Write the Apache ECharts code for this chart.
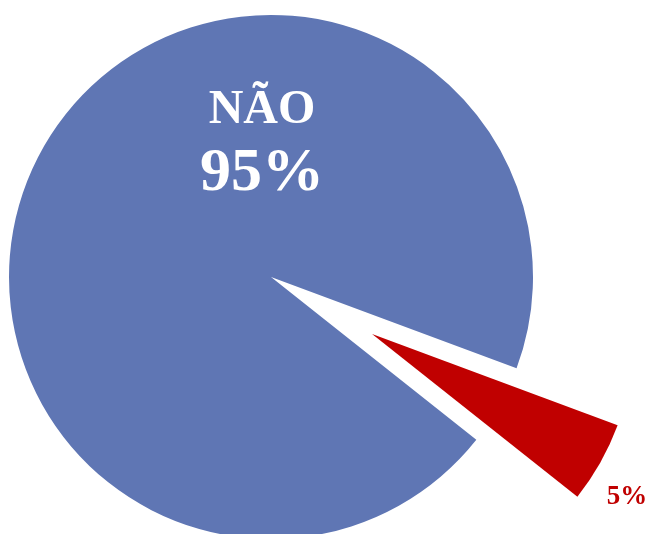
<!DOCTYPE html>
<html>
<head>
<meta charset="utf-8">
<style>
  html, body { margin: 0; padding: 0; background: #ffffff; }
  #chart { width: 650px; height: 534px; }
</style>
<script src="https://cdn.jsdelivr.net/npm/echarts@6/dist/echarts.min.js"></script>
</head>
<body>
<div id="chart"></div>
<script>
// Answer shares (percent)
const categories = ['SIM', 'NÃO'];
const values = [5, 95];
const colors = ['#C00000', '#5F76B4'];

const chart = echarts.init(document.getElementById('chart'), null, { renderer: 'canvas' });

const FONT = '"Liberation Serif", "DejaVu Serif", serif';
const CENTER = [271, 277];
const RADIUS = 262;
const START_ANGLE = -20.4;
const PULL_OUT = 116;          // how far the SIM slice is pulled out

// Label centres on the page for each slice
const labelPos = [
  { x: 627, y: 497 },
  { x: 262, y: 144 }
];

// Direction of the pulled-out slice: along its mid angle
const total = values.reduce((a, b) => a + b, 0);
const midRad = (START_ANGLE - values[0] / total * 180) * Math.PI / 180;
const pulledCenter = [
  CENTER[0] + PULL_OUT * Math.cos(midRad),
  CENTER[1] - PULL_OUT * Math.sin(midRad)
];

const labelStyles = [
  {
    show: true,
    formatter: p => p.value + '%',
    color: '#C00000',
    fontFamily: FONT,
    fontWeight: 'bold',
    fontSize: 27
  },
  {
    show: true,
    formatter: p => '{a|' + p.name + '}\n{b|' + p.value + '%}',
    rich: {
      a: { color: '#ffffff', fontFamily: FONT, fontWeight: 'bold', fontSize: 48, lineHeight: 60 },
      b: { color: '#ffffff', fontFamily: FONT, fontWeight: 'bold', fontSize: 62, lineHeight: 66 }
    }
  }
];

// One pie ring per slice: each draws its own slice and keeps the other as an empty gap
function makeSeries(drawIndex, center) {
  return {
    type: 'pie',
    center: center,
    radius: [0, RADIUS],
    startAngle: START_ANGLE,
    clockwise: true,
    silent: true,
    avoidLabelOverlap: false,
    emphasis: { disabled: true },
    label: { position: 'inside' },
    labelLine: { show: false },
    labelLayout: function (params) {
      const p = labelPos[params.dataIndex];
      return { x: p.x, y: p.y, align: 'center', verticalAlign: 'middle', hideOverlap: false, moveOverlap: false };
    },
    data: categories.map((name, i) => ({
      name: name,
      value: values[i],
      itemStyle: i === drawIndex ? { color: colors[i] } : { color: 'rgba(0,0,0,0)' },
      label: i === drawIndex ? labelStyles[i] : { show: false }
    }))
  };
}

chart.setOption({
  animation: false,
  series: [
    makeSeries(1, CENTER),
    makeSeries(0, pulledCenter)
  ]
});
</script>
</body>
</html>
